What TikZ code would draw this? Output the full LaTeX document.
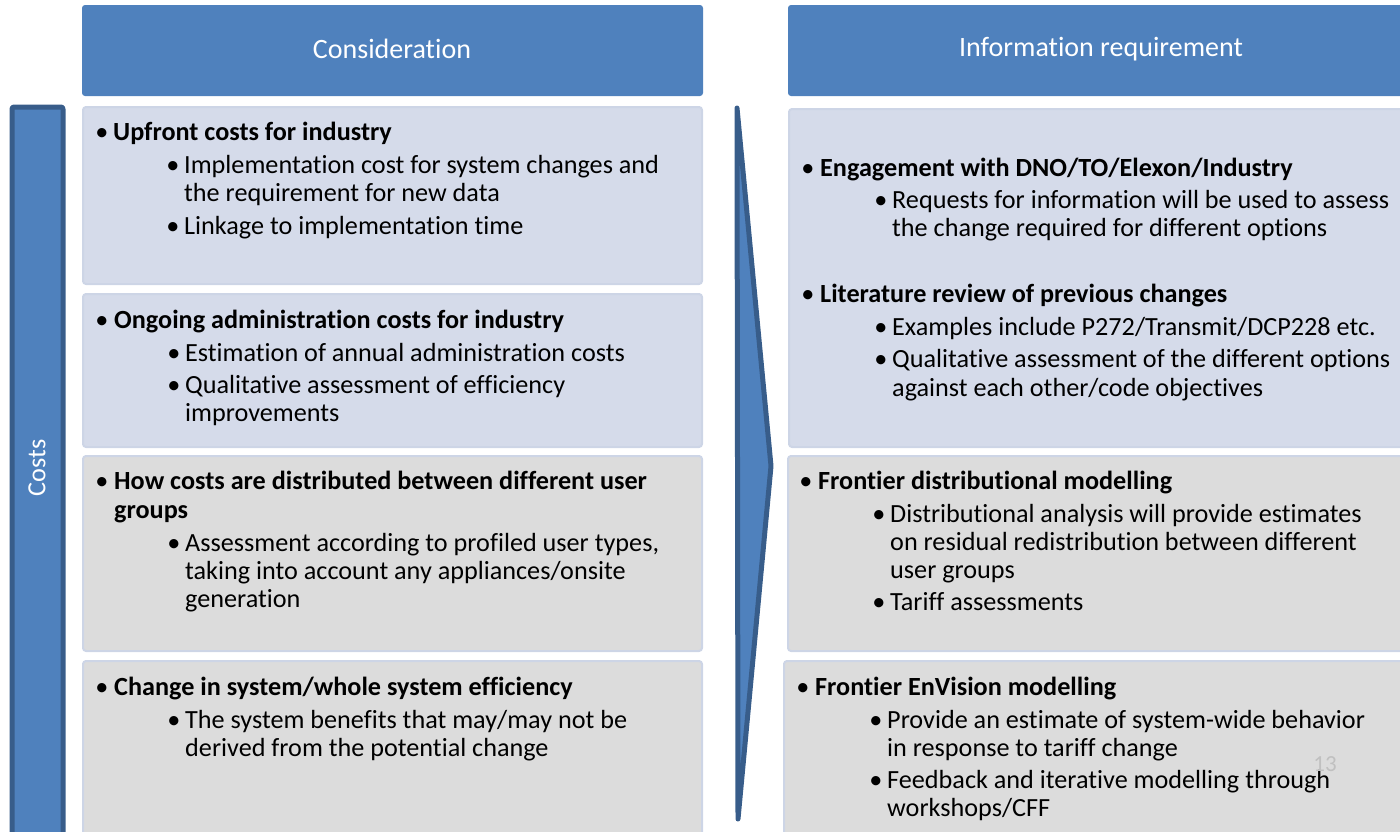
\documentclass[tikz,border=0pt]{standalone}
\usepackage{fontspec}
\setmainfont[Ligatures=CommonOff]{Carlito}
\definecolor{hblue}{HTML}{4F81BD}
\definecolor{dblue}{HTML}{385D8A}
\definecolor{lblue}{HTML}{D5DBEA}
\definecolor{lbord}{HTML}{CDD5E6}
\definecolor{lgray}{HTML}{DCDCDC}
\definecolor{pgnum}{HTML}{C0C0C0}
\newcommand\tline[4]{\node[txt] (#1) at (#2,#3) {#4};}
\newcommand\tbul[3]{\node[bul] (#1) at (#2,#3) {•};}
\begin{document}
\begin{tikzpicture}[x=1pt,y=-1pt,
  txt/.style={anchor=base west,inner sep=0pt,font=\fontsize{26.2}{28}\selectfont,text=black},
  bul/.style={anchor=base,inner sep=0pt,font=\fontsize{26.2}{28}\selectfont,text=black},
  hdr/.style={fill=hblue,draw=none,rounded corners=3pt},
  hdrtxt/.style={text=white,font=\fontsize{28}{32}\selectfont,inner sep=0pt},
  bbox/.style={fill=lblue,draw=lbord,line width=2pt,rounded corners=3pt},
  gbox/.style={fill=lgray,draw=lbord,line width=2pt,rounded corners=3pt},
  barst/.style={fill=hblue,draw=dblue,line width=5pt,rounded corners=2pt,line join=round}]
\useasboundingbox (0,0) rectangle (1400,831);
% headers
\draw[hdr] (82,5) rectangle (703,96);
\draw[hdr] (788,5) rectangle (1404,96);
\node[hdrtxt] (h1) at (392,49) {Consideration};
\node[hdrtxt] (h2) at (1101,49) {Information requirement};
% costs bar
\draw[barst] (12,107) rectangle (63,840);
\node[hdrtxt,rotate=90,font=\fontsize{26.2}{28}\selectfont] (costs) at (37,468) {Costs};
% arrow
\draw[fill=hblue,draw=dblue,line width=5pt,line join=round,line cap=round] (737,108) -- (771,466) -- (738,819) -- cycle;
% left boxes
\draw[bbox] (83,107) rectangle (702,284);
\draw[bbox] (83,294) rectangle (702,447);
\draw[gbox] (83,456) rectangle (702,651);
\draw[gbox] (83,661) rectangle (702,840);
% right boxes
\draw[bbox] (789,109) rectangle (1410,447);
\draw[gbox] (788,456) rectangle (1410,651);
\draw[gbox] (784,661) rectangle (1410,840);
% left box 1
\tbul{a1b}{102}{140}
\tline{a1}{113}{140}{\bfseries Upfront costs for industry}
\tbul{a2b}{173}{173}
\tline{a2}{184}{173}{Implementation cost for system changes and}
\tline{a3}{184}{201}{the requirement for new data}
\tbul{a4b}{173}{234}
\tline{a4}{184}{234}{Linkage to implementation time}
% left box 2
\tbul{b1b}{102}{328}
\tline{b1}{114}{328}{\bfseries Ongoing administration costs for industry}
\tbul{b2b}{174}{361}
\tline{b2}{185}{361}{Estimation of annual administration costs}
\tbul{b3b}{174}{393}
\tline{b3}{185}{393}{Qualitative assessment of efficiency}
\tline{b4}{185}{421}{improvements}
% left box 3
\tbul{c1b}{102}{489}
\tline{c1}{114}{489}{\bfseries How costs are distributed between different user}
\tline{c2}{114}{518}{\bfseries groups}
\tbul{c3b}{174}{551}
\tline{c3}{185}{551}{Assessment according to profiled user types,}
\tline{c4}{185}{579}{taking into account any appliances/onsite}
\tline{c5}{185}{607}{generation}
% left box 4
\tbul{d1b}{102}{695}
\tline{d1}{114}{695}{\bfseries Change in system/whole system efficiency}
\tbul{d2b}{174}{728}
\tline{d2}{185}{728}{The system benefits that may/may not be}
\tline{d3}{185}{756}{derived from the potential change}
% right box 1
\tbul{e1b}{808}{176}
\tline{e1}{820}{176}{\bfseries Engagement with DNO/TO/Elexon/Industry}
\tbul{e2b}{881}{208}
\tline{e2}{892}{208}{Requests for information will be used to assess}
\tline{e3}{892}{236}{the change required for different options}
\tbul{e4b}{808}{302}
\tline{e4}{820}{302}{\bfseries Literature review of previous changes}
\tbul{e5b}{881}{335}
\tline{e5}{892}{335}{Examples include P272/Transmit/DCP228 etc.}
\tbul{e6b}{881}{367}
\tline{e6}{892}{367}{Qualitative assessment of the different options}
\tline{e7}{892}{396}{against each other/code objectives}
% right box 2
\tbul{f1b}{806}{489}
\tline{f1}{818}{489}{\bfseries Frontier distributional modelling}
\tbul{f2b}{879}{522}
\tline{f2}{890}{522}{Distributional analysis will provide estimates}
\tline{f3}{890}{550}{on residual redistribution between different}
\tline{f4}{890}{578}{user groups}
\tbul{f5b}{879}{610}
\tline{f5}{890}{610}{Tariff assessments}
% right box 3
\tbul{g1b}{803}{695}
\tline{g1}{815}{695}{\bfseries Frontier EnVision modelling}
\tbul{g2b}{876}{728}
\tline{g2}{887}{728}{Provide an estimate of system-wide behavior}
\tline{g3}{887}{756}{in response to tariff change}
\tbul{g4b}{876}{788}
\tline{g4}{887}{788}{Feedback and iterative modelling through}
\tline{g5}{887}{816}{workshops/CFF}
% page number
\node[inner sep=0pt,text=pgnum,font=\fontsize{23}{26}\selectfont] (pg) at (1325,764) {13};
\end{tikzpicture}
\end{document}
